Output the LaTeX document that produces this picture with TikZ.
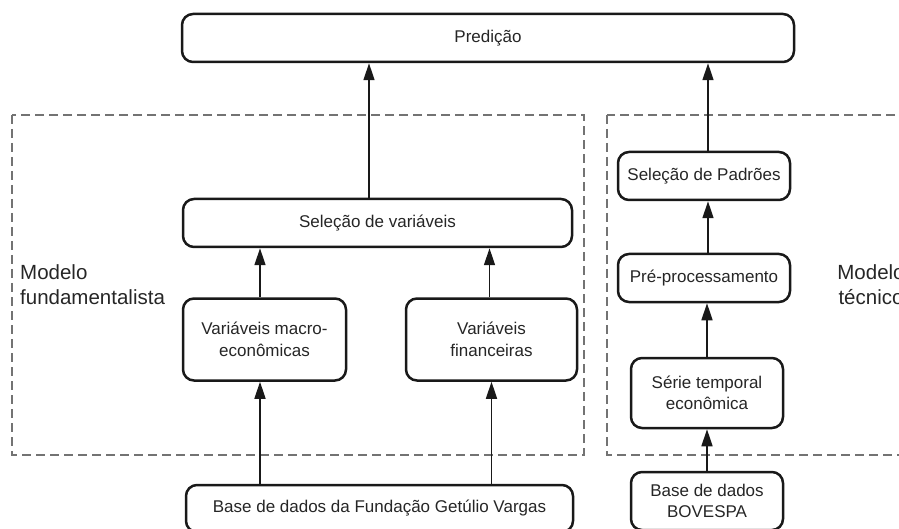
\documentclass[tikz,border=0pt]{standalone}
\usepackage{fontspec}
\setmainfont{Liberation Sans}
\usetikzlibrary{arrows.meta,calc}
\begin{document}
\begin{tikzpicture}[x=1pt,y=-1pt,
  box/.style={draw=black!90, line width=2.5pt, rounded corners=11pt, fill=white, align=center, inner sep=0pt, font=\fontsize{17}{21.5}\selectfont, text=black!85},
  arr/.style={line width=1.5pt, draw=black!90, -{Triangle[length=17pt,width=11pt]}},
  region/.style={draw=black!55, line width=1.2pt, dash pattern=on 9pt off 5pt},
  lbl/.style={font=\fontsize{20.5}{25}\selectfont, text=black!85, inner sep=0pt}]
\useasboundingbox (0,0) rectangle (899,529);
\clip (0,0) rectangle (899,529);

% dashed model regions
\draw[region] (12,115) rectangle (584,455);
\draw[region] (607,115) rectangle (915,455);

% labels
\node[lbl, anchor=west, align=left] (mf) at (20,285) {Modelo\\fundamentalista};
\node[lbl, align=center] (mt) at (871,285) {Modelo\\técnico};

% boxes
\node[box, minimum width=612pt, minimum height=48pt] (pred) at (488,38) {Predição};
\node[box, minimum width=389pt, minimum height=48pt] (sv) at (377.5,223) {Seleção de variáveis};
\node[box, minimum width=163pt, minimum height=82pt] (macro) at (264.5,339.5) {Variáveis macro-\\econômicas};
\node[box, minimum width=171pt, minimum height=82pt] (fin) at (491.5,339.5) {Variáveis\\financeiras};
\node[box, minimum width=387pt, minimum height=47pt] (fgv) at (379.5,508.5) {Base de dados da Fundação Getúlio Vargas};

\node[box, minimum width=172pt, minimum height=48pt] (sp) at (704,176) {Seleção de Padrões};
\node[box, minimum width=172pt, minimum height=48pt] (pp) at (704,278) {Pré-processamento};
\node[box, minimum width=152pt, minimum height=70pt] (st) at (707,393) {Série temporal\\econômica};
\node[box, minimum width=152pt, minimum height=58pt] (bov) at (707,501) {Base de dados\\BOVESPA};

% connectors
\draw[arr] ([xshift=-8.5pt]sv.north) -- ([xshift=-8.5pt]sv.north |- pred.south);
\draw[arr] ([xshift=4pt]sp.north) -- ([xshift=4pt]sp.north |- pred.south);
\draw[arr] ([xshift=-4.5pt]macro.north) -- ([xshift=-4.5pt]macro.north |- sv.south);
\draw[arr] ([xshift=-2pt]fin.north) -- ([xshift=-2pt]fin.north |- sv.south);
\draw[arr] ([xshift=-4.5pt]macro.south |- fgv.north) -- ([xshift=-4.5pt]macro.south);
\draw[arr] (fin.south |- fgv.north) -- (fin.south);
\draw[arr] ([xshift=4pt]pp.north) -- ([xshift=4pt]pp.north |- sp.south);
\draw[arr] (st.north) -- (st.north |- pp.south);
\draw[arr] (bov.north) -- (st.south);
\end{tikzpicture}
\end{document}
